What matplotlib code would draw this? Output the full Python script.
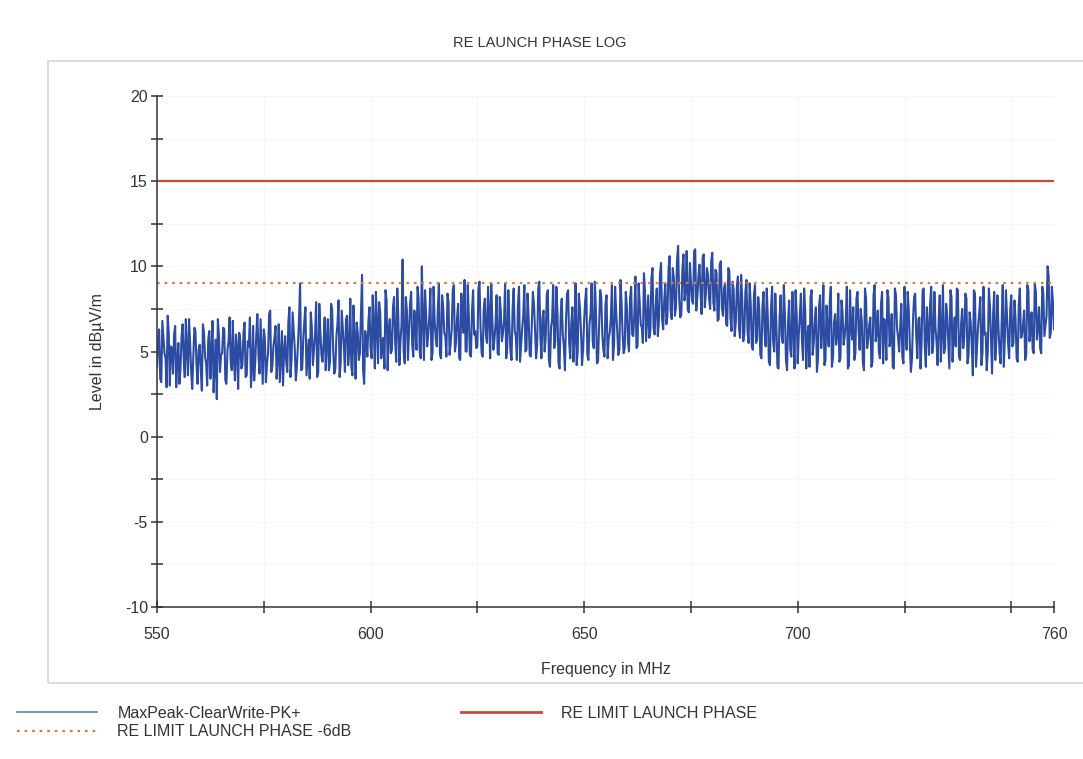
import numpy as np
import matplotlib
matplotlib.use("Agg")
import matplotlib.pyplot as plt
from matplotlib.lines import Line2D
from matplotlib.patches import Rectangle

plt.rcParams['font.family'] = ['Liberation Sans', 'DejaVu Sans']

# sweep 550..760 MHz, 0.25 MHz step
f_start, f_stop, f_step = 550.0, 760.0, 0.25

# MaxPeak-ClearWrite-PK+ trace, dBuV/m, one row per 10 MHz
# level: points on the whole/half MHz, level_b: the quarter points between them
level = [
    4.1, 6.3, 3.2, 5.8, 4.6, 7.1, 3.0, 5.2, 6.0, 2.9, 5.5, 4.0, 6.6, 3.5, 5.0, 6.9, 3.8, 4.7, 6.2, 3.1,
    5.4, 2.7, 6.1, 4.3, 5.7, 3.4, 6.8, 4.0, 2.2, 5.9, 4.8, 6.4, 3.3, 5.1, 7.0, 3.9, 4.5, 6.0, 2.8, 5.6,
    4.2, 6.7, 3.6, 5.3, 2.9, 6.5, 4.4, 7.2, 3.7, 5.0, 6.3, 3.2, 4.9, 7.4, 4.1, 5.8, 3.4, 6.6, 4.7, 3.0,
    5.9, 3.8, 7.6, 4.5, 6.2, 3.3, 5.4, 9.0, 4.0, 6.8, 3.6, 5.7, 7.3, 4.2, 6.0, 3.5, 7.8, 4.8, 5.5, 3.9,
    6.9, 4.4, 7.5, 3.7, 5.9, 8.0, 4.3, 6.4, 3.8, 7.1, 5.0, 4.1, 7.7, 3.4, 6.1, 4.9, 9.5, 3.1, 5.6, 6.8,
    5.2, 8.3, 4.0, 6.6, 7.9, 4.6, 5.8, 8.6, 3.9, 6.9, 5.1, 8.2, 4.4, 7.0, 5.6, 10.4, 4.3, 7.4, 6.1, 8.5,
    4.7, 6.5, 8.8, 5.0, 10.0, 4.5, 7.2, 6.0, 8.7, 4.9, 6.8, 5.3, 9.0, 4.6, 7.6, 5.9, 8.4, 4.8, 6.3, 8.9,
    5.5, 7.8, 4.5, 6.7, 9.2, 5.0, 7.1, 4.7, 8.6, 6.2, 5.3, 9.1, 4.9, 7.5, 6.0, 8.8, 4.6, 6.9, 5.7, 8.3,
    4.8, 7.3, 6.1, 9.0, 5.2, 6.6, 4.5, 8.7, 5.9, 7.7, 4.4, 6.4, 8.9, 5.1, 7.0, 4.7, 8.5, 6.3, 5.4, 9.1,
    4.6, 7.4, 5.8, 8.6, 4.1, 6.9, 5.2, 8.8, 4.3, 7.1, 6.0, 3.9, 8.4, 5.5, 6.7, 4.4, 9.0, 5.0, 7.6, 4.2,
    6.8, 8.7, 4.5, 7.2, 5.6, 9.1, 4.3, 6.5, 8.2, 5.1, 7.8, 4.6, 6.1, 8.9, 5.4, 7.3, 4.8, 9.2, 6.0, 5.2,
    7.6, 5.0, 8.8, 5.9, 9.4, 5.3, 7.9, 6.4, 9.6, 5.6, 8.3, 6.2, 9.9, 6.0, 8.7, 6.8, 10.2, 6.3, 9.0, 7.1,
    10.6, 6.9, 9.3, 7.6, 11.2, 7.0, 9.8, 8.0, 10.9, 7.3, 9.1, 7.8, 11.0, 8.2, 10.1, 7.2, 10.7, 8.4, 9.5, 7.5,
    10.8, 7.4, 9.6, 6.9, 10.3, 7.1, 9.0, 6.5, 9.7, 6.2, 8.6, 6.7, 9.4, 5.8, 8.1, 6.0, 9.2, 5.5, 7.8, 5.1,
    8.9, 5.7, 7.4, 4.6, 8.5, 5.3, 7.0, 4.2, 8.8, 5.0, 6.6, 4.0, 8.3, 5.5, 7.2, 3.9, 8.0, 4.7, 6.4, 8.6,
    4.3, 7.1, 5.6, 8.7, 4.0, 6.5, 8.2, 4.8, 6.9, 3.8, 7.7, 5.2, 8.9, 4.5, 6.2, 7.9, 4.1, 6.7, 5.4, 8.4,
    4.6, 7.3, 5.9, 8.8, 4.2, 6.4, 7.6, 4.9, 8.5, 5.1, 6.8, 3.9, 8.1, 5.7, 7.0, 4.4, 8.9, 6.1, 5.0, 7.8,
    4.3, 6.6, 8.6, 5.3, 7.2, 4.0, 8.3, 5.8, 6.5, 4.7, 8.8, 5.1, 7.4, 3.8, 6.9, 8.4, 4.6, 7.0, 5.5, 8.7,
    4.1, 6.3, 7.8, 4.9, 8.5, 5.6, 6.8, 4.4, 8.9, 5.2, 7.1, 4.0, 8.2, 6.0, 5.3, 8.6, 4.5, 7.5, 5.9, 8.1,
    4.8, 6.7, 3.6, 8.4, 5.4, 7.3, 4.2, 8.8, 6.1, 5.0, 7.7, 3.7, 8.5, 5.6, 6.4, 4.3, 8.9, 5.8, 7.0, 4.6,
    8.3, 5.5, 6.9, 4.4, 8.7, 5.9, 7.4, 4.8, 8.6, 6.2, 5.1, 9.0, 5.7, 7.6, 4.9, 8.4, 6.5, 10.0, 5.8, 8.8,
    6.3,
]
level_b = [
    5.6, 3.4, 6.8, 4.9, 2.9, 6.1, 5.3, 3.7, 6.5, 4.4, 3.1, 5.9, 4.6, 6.9, 3.6, 5.5, 2.8, 6.4, 4.2, 5.1,
    3.9, 6.6, 4.7, 3.0, 6.2, 5.0, 2.6, 5.7, 6.9, 3.8, 4.9, 6.3, 3.1, 5.6, 4.4, 6.8, 3.3, 5.2, 6.1, 4.0,
    6.1, 3.5, 5.6, 7.0, 4.0, 3.3, 6.0, 4.8, 6.9, 3.1, 5.8, 4.3, 7.2, 3.8, 5.3, 6.5, 4.6, 3.2, 6.2, 5.0,
    4.4, 6.7, 3.5, 7.3, 5.2, 4.1, 6.9, 3.9, 5.8, 7.6, 4.6, 3.4, 6.4, 5.1, 7.9, 3.8, 6.1, 4.4, 7.0, 5.6,
    3.9, 7.8, 5.1, 4.0, 6.6, 3.5, 7.4, 5.3, 6.9, 4.2, 8.1, 3.6, 5.7, 6.7, 4.5, 7.2, 3.9, 6.2, 4.7, 7.6,
    4.6, 6.4, 8.5, 4.3, 7.3, 5.5, 4.0, 8.0, 6.2, 4.9, 7.6, 5.6, 8.7, 4.2, 6.6, 5.0, 8.2, 4.5, 7.8, 5.4,
    7.4, 5.1, 8.1, 4.6, 6.9, 8.6, 5.3, 7.0, 4.5, 8.8, 5.8, 7.5, 4.8, 8.3, 6.1, 4.7, 7.9, 5.5, 8.6, 5.0,
    7.0, 4.6, 8.4, 6.1, 5.0, 8.9, 4.8, 7.4, 6.0, 5.2, 8.7, 6.4, 4.7, 8.1, 5.5, 7.2, 9.0, 5.1, 6.6, 4.9,
    8.2, 5.6, 6.8, 4.6, 8.6, 5.0, 7.5, 6.2, 4.5, 8.8, 5.4, 7.1, 5.0, 8.4, 4.8, 6.6, 7.8, 4.6, 8.7, 5.9,
    7.0, 5.0, 8.3, 4.5, 6.4, 8.9, 5.6, 7.3, 4.0, 8.1, 5.3, 6.8, 8.6, 4.6, 7.6, 5.9, 4.2, 8.4, 6.3, 5.1,
    8.0, 4.8, 6.6, 9.0, 5.2, 7.5, 4.4, 8.6, 6.0, 4.7, 8.3, 5.8, 7.0, 4.5, 8.8, 6.2, 5.1, 7.9, 4.9, 8.5,
    5.6, 8.1, 6.0, 7.2, 5.2, 9.0, 6.6, 5.5, 8.5, 6.9, 5.8, 9.3, 6.4, 7.7, 5.9, 9.5, 6.9, 8.0, 6.6, 9.8,
    7.4, 9.9, 7.1, 10.4, 8.1, 7.2, 10.7, 8.6, 7.5, 10.2, 8.0, 10.9, 7.4, 9.4, 8.5, 10.5, 7.6, 9.9, 8.1, 10.3,
    7.9, 9.8, 6.8, 10.1, 7.6, 8.7, 6.6, 9.9, 7.0, 9.1, 5.9, 8.8, 6.4, 9.5, 5.6, 8.5, 6.2, 9.0, 5.3, 8.3,
    5.5, 8.2, 4.8, 7.7, 6.1, 8.7, 4.4, 7.5, 5.6, 8.4, 4.1, 7.0, 5.9, 8.9, 4.5, 6.8, 5.1, 8.5, 4.0, 7.2,
    6.0, 8.4, 4.5, 7.4, 5.9, 4.1, 8.6, 5.5, 7.6, 4.6, 8.3, 6.3, 4.2, 7.7, 5.3, 8.8, 4.6, 7.2, 6.0, 4.4,
    8.0, 5.4, 6.7, 4.0, 8.6, 5.7, 4.5, 8.1, 6.2, 7.5, 4.4, 8.7, 5.2, 6.6, 4.1, 8.3, 5.6, 7.4, 4.6, 8.5,
    6.9, 4.5, 8.1, 5.7, 4.1, 8.7, 6.4, 5.0, 7.8, 4.3, 6.7, 8.5, 5.4, 4.6, 8.2, 5.9, 6.9, 4.0, 8.6, 5.3,
    7.6, 4.8, 8.8, 5.5, 6.4, 4.2, 8.3, 6.1, 4.9, 7.8, 5.6, 8.6, 4.4, 7.0, 8.7, 4.7, 6.6, 5.2, 8.4, 4.3,
    7.3, 5.4, 8.6, 4.1, 6.6, 8.2, 4.9, 6.0, 3.9, 8.7, 5.7, 7.2, 4.5, 8.3, 5.0, 6.8, 4.1, 8.6, 5.5, 7.5,
    5.3, 8.0, 4.6, 7.7, 5.8, 6.6, 4.5, 8.9, 5.6, 7.3, 4.9, 8.5, 6.4, 5.2, 8.8, 5.9, 7.1, 9.4, 6.1, 7.9,
]

limit = 15.0        # RE LIMIT LAUNCH PHASE
limit_6db = 9.0     # limit - 6 dB

x_major = [550, 575, 600, 625, 650, 675, 700, 725, 750, 760]
x_labels = ['550', '', '600', '', '650', '', '700', '', '', '760']
y_ticks = np.arange(-10, 20.1, 2.5)
y_labels = ['-10', '', '-5', '', '0', '', '5', '', '10', '', '15', '', '20']

freq = np.arange(f_start, f_stop + f_step / 2, f_step)
trace = np.empty(len(freq))
trace[0::2] = level
trace[1::2] = level_b

fig = plt.figure(figsize=(10.83, 7.59), dpi=100)
fig.patch.set_facecolor('white')

# light outer frame round the plot area
fig.patches.append(Rectangle((48 / 1083, 1 - 683 / 759), 1.2, (683 - 61) / 759,
                             transform=fig.transFigure, fill=False,
                             edgecolor='#d4d4d4', linewidth=1.2))

ax = fig.add_axes([157 / 1083, 1 - 607 / 759, (1054 - 157) / 1083, (607 - 96) / 759])

trace_col = '#2b4ca2'
lim_col = '#c9493d'
lim6_col = '#e0784e'

ax.plot(freq, trace, color=trace_col, linewidth=1.5)
ax.plot([f_start, f_stop], [limit, limit], color=lim_col, linewidth=1.6)
ax.plot([f_start, f_stop], [limit_6db, limit_6db], color=lim6_col, linewidth=1.6,
        linestyle=(0, (1.2, 2.2)))

ax.set_xlim(f_start, f_stop)
ax.set_ylim(-10, 20)
ax.set_xticks(x_major)
ax.set_xticklabels(x_labels)
ax.set_yticks(y_ticks)
ax.set_yticklabels(y_labels)

for s in ['top', 'right']:
    ax.spines[s].set_visible(False)
for s in ['left', 'bottom']:
    ax.spines[s].set_color('#333333')
    ax.spines[s].set_linewidth(1.1)

ax.tick_params(axis='both', direction='inout', length=9, width=1.1, color='#333333',
               labelsize=11.5, labelcolor='#333333')
ax.tick_params(axis='x', pad=10)
ax.tick_params(axis='y', pad=2)
ax.grid(True, color='#f7f7f7', linewidth=0.8)
ax.set_axisbelow(True)

ax.set_xlabel('Frequency in MHz', fontsize=11.5, color='#333333', labelpad=14)
ax.set_ylabel('Level in dBµV/m', fontsize=11.5, color='#333333', labelpad=14)

fig.text(0.498, 1 - 43 / 759, 'RE LAUNCH PHASE LOG', ha='center', va='center',
         fontsize=10.5, color='#333333')

# legend under the frame
h1 = Line2D([], [], color='#5f86b0', linewidth=1.2)
h2 = Line2D([], [], color=lim6_col, linewidth=1.6, linestyle=(0, (1.2, 2.2)))
h3 = Line2D([], [], color=lim_col, linewidth=2.0)
leg1 = fig.legend([h1, h2], ['MaxPeak-ClearWrite-PK+', 'RE LIMIT LAUNCH PHASE -6dB'],
                  loc='upper left', bbox_to_anchor=(0.008, 1 - 698 / 759), frameon=False,
                  fontsize=11.5, handlelength=5, handletextpad=1.3, labelspacing=0.2,
                  borderpad=0)
leg2 = fig.legend([h3], ['RE LIMIT LAUNCH PHASE'], loc='upper left',
                  bbox_to_anchor=(0.418, 1 - 698 / 759), frameon=False, fontsize=11.5,
                  handlelength=5, handletextpad=1.3, borderpad=0)
for t in leg1.get_texts() + leg2.get_texts():
    t.set_color('#333333')

fig.savefig('out.png', dpi=100)
